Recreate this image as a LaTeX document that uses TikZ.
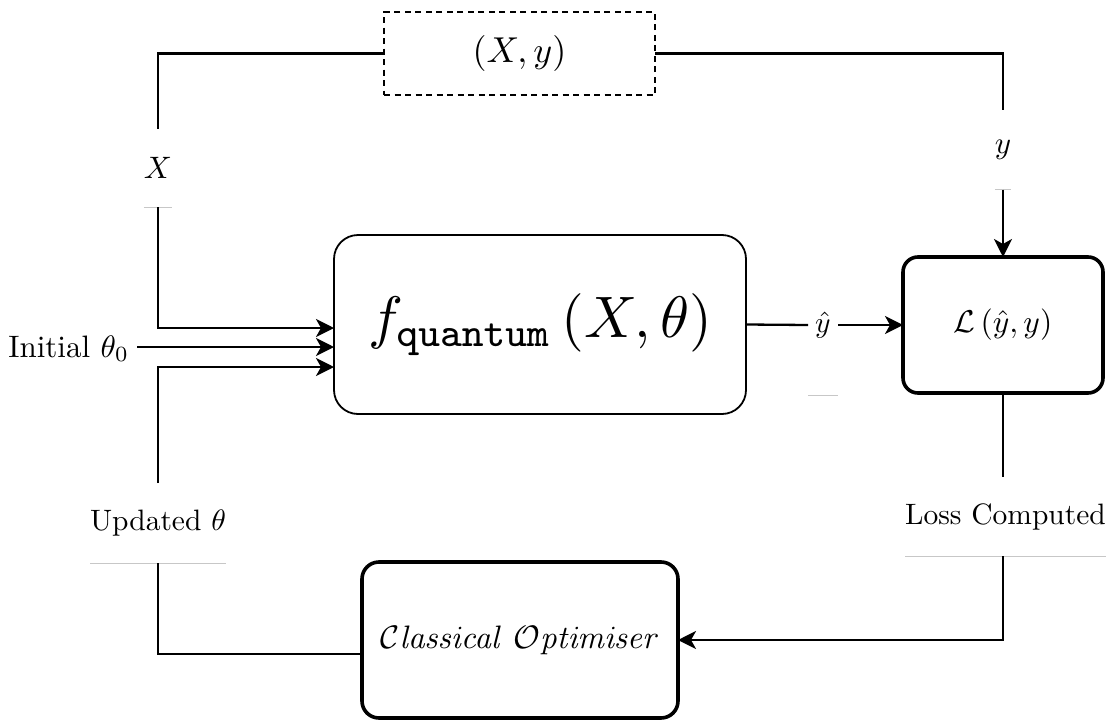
\documentclass[tikz,border=0pt]{standalone}
\usepackage{amsmath}
\usepackage{graphicx}
\usetikzlibrary{arrows.meta}
\newcommand\lb[1]{\scalebox{2.95}{#1}}
\tikzset{
  conn/.style={line width=2.3pt},
  arr/.style={conn,-{Stealth[length=18pt,width=18pt,inset=5pt]}},
  lbl/.style={inner sep=0pt, outer sep=0pt},
  grayline/.style={draw=black!22, line width=1pt},
  databox/.style={draw, line width=2.2pt, dash pattern=on 6pt off 4.5pt, inner sep=0pt, outer sep=0pt},
  mainbox/.style={draw, line width=1.8pt, rounded corners=24pt, inner sep=0pt, outer sep=0pt},
  thickbox/.style={draw, line width=3.6pt, inner sep=0pt, outer sep=0pt}
}
\begin{document}
\begin{tikzpicture}[x=1pt,y=-1pt]
\useasboundingbox (0,0) rectangle (1114,723);

% boxes
\node[databox, minimum width=271pt, minimum height=83pt] (data) at (519.5,53.5) {\scalebox{3.6}{$(X,y)$}};
\node[mainbox, minimum width=412pt, minimum height=179pt] (main) at (540,324.5) {\scalebox{5.85}{$f_{\mathtt{quantum}}\left(X,\theta\right)$}};
\node[thickbox, rounded corners=15pt, minimum width=200pt, minimum height=136pt] (L) at (1003,325) {\scalebox{3.15}{$\mathcal{L}\left(\hat{y},y\right)$}};
\node[thickbox, rounded corners=17pt, minimum width=316pt, minimum height=156pt] (opt) at (520,640) {\scalebox{3.25}{$\mathcal{C}\mathit{lassical}\ \mathcal{O}\mathit{ptimiser}$}};

% labels
\node[lbl, minimum width=26pt, minimum height=78pt] (Xlab) at (158,168) {\scalebox{3.1}{$X$}};
\node[lbl, minimum width=14pt, minimum height=80pt] (ylab) at (1003,149.5) {\raisebox{-4pt}{\scalebox{3.1}{$y$}}};
\node[lbl, minimum width=132pt, minimum height=80pt] (upd) at (158,523) {\lb{Updated $\theta$}};
\node[lbl, minimum width=197pt, minimum height=79pt] (loss) at (1005.5,516.5) {\lb{Loss Computed}};
\node[lbl, minimum width=30pt, minimum height=140pt] (yhat) at (823,325) {\lb{$\hat{y}$}};
\node[lbl, anchor=base east] (init) at (129,357) {\scalebox{3.1}{Initial $\theta_0$}};
\coordinate (initout) at (137,347);

\foreach \n in {Xlab,ylab,upd,loss,yhat}
  \draw[grayline] (\n.south west) -- (\n.south east);

% entry points
\coordinate (inX) at (334,328);
\coordinate (inU) at (334,367);
\coordinate (optIn) at (362,654);

% connectors
\draw[conn] (data.west) -| (Xlab.north);
\draw[arr] (Xlab.south) |- (inX);
\draw[arr] (initout) -- (initout -| main.west);
\draw[arr] (upd.north) |- (inU);
\draw[conn] (upd.south) |- (optIn);
\draw[conn] (main.east) -- (yhat.west);
\draw[arr] (yhat.east) -- (L.west);
\draw[conn] (data.east) -| (ylab.north);
\draw[arr] (ylab.south) -- (L.north);
\draw[conn] (L.south) -- (L.south |- loss.north);
\draw[arr] (L.south |- loss.south) |- (opt.east);
\end{tikzpicture}
\end{document}
